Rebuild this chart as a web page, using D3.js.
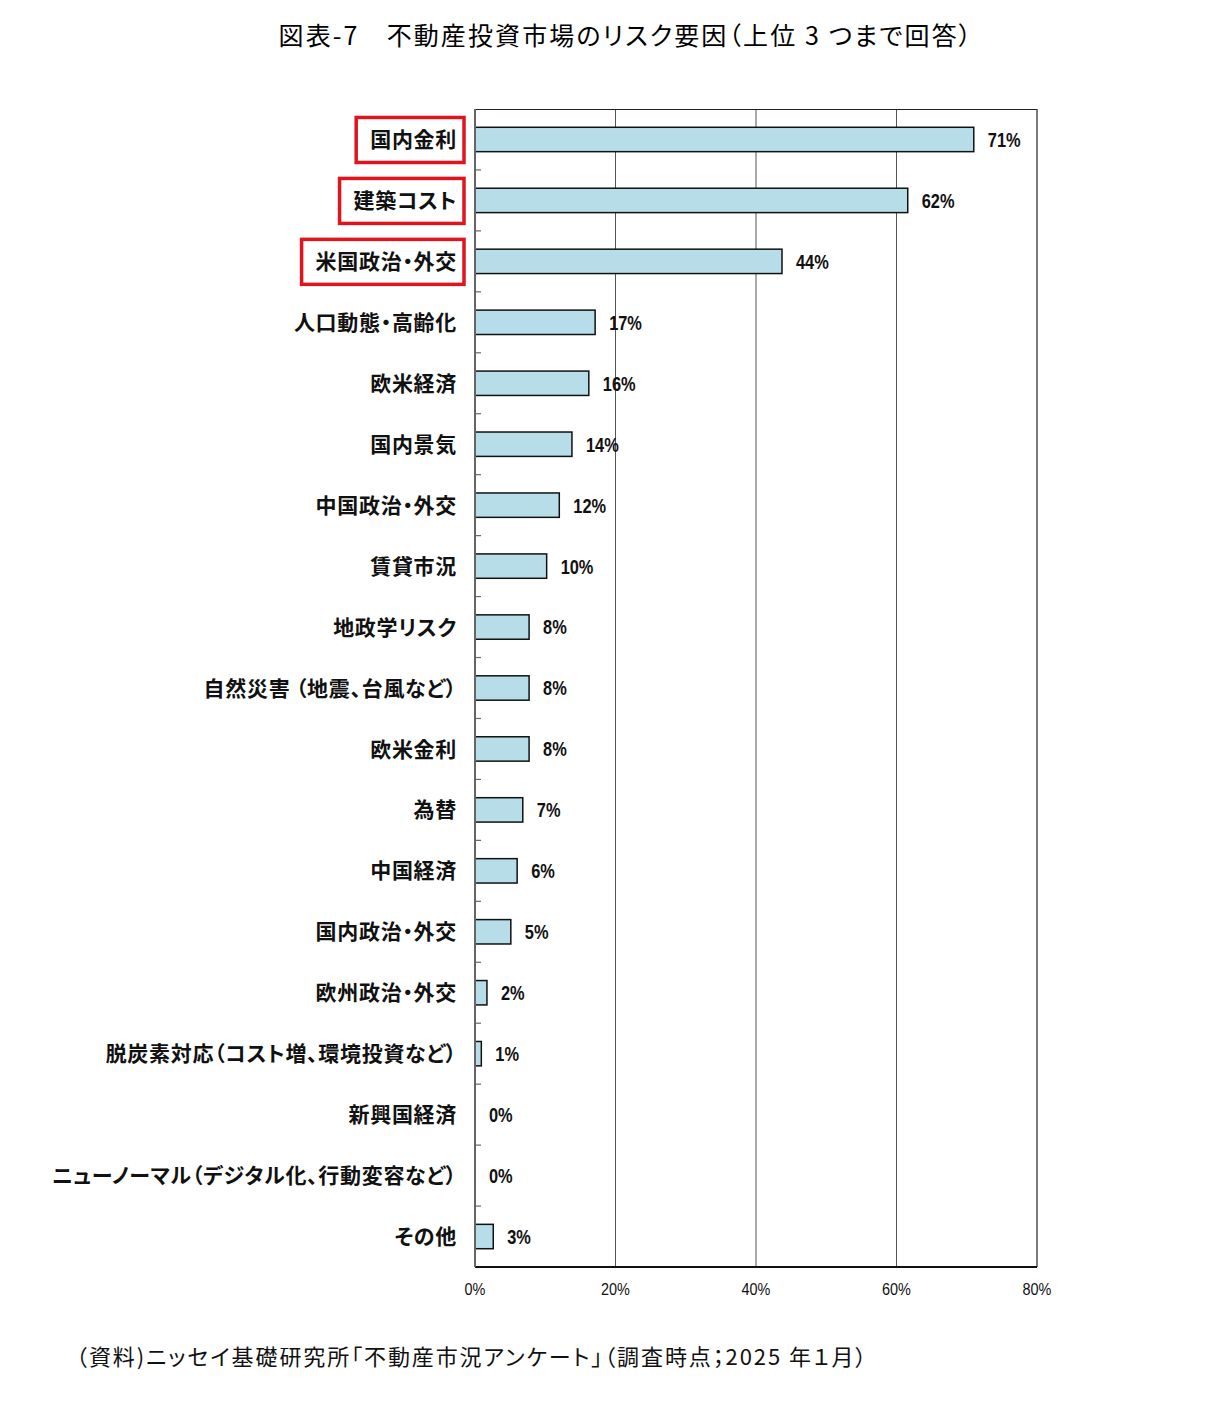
<!DOCTYPE html>
<html><head><meta charset="utf-8">
<script src="https://cdn.jsdelivr.net/npm/d3@7"></script>
<style>
body{margin:0;background:#fff;}
svg{display:block;}
.palt{font-feature-settings:"palt" 1;}
</style></head>
<body>
<svg id="c" width="1230" height="1406"></svg>
<script>
const categories = ["国内金利","建築コスト","米国政治・外交","人口動態・高齢化","欧米経済","国内景気","中国政治・外交","賃貸市況","地政学リスク","自然災害 （地震、台風など）","欧米金利","為替","中国経済","国内政治・外交","欧州政治・外交","脱炭素対応（コスト増、環境投資など）","新興国経済","ニューノーマル（デジタル化、行動変容など）","その他"];
const values = [71.0,61.6,43.7,17.1,16.2,13.8,12.0,10.2,7.7,7.7,7.7,6.8,6.0,5.1,1.7,0.9,0,0,2.6];
const highlighted = ["国内金利","建築コスト","米国政治・外交"];
const xTicks = [0,20,40,60,80];
const title = "図表-7　不動産投資市場のリスク要因（上位 3 つまで回答）";
const source = "（資料)ニッセイ基礎研究所「不動産市況アンケート」（調査時点；2025 年１月）";

const svg = d3.select("#c");
const L = 475, R = 1037, T = 109, B = 1267;
const jp = "'Noto Sans CJK JP','Noto Sans',sans-serif";
const narrow = "'Liberation Sans Narrow','Arial Narrow','Liberation Sans',sans-serif";

const x = d3.scaleLinear().domain([0,80]).range([L,R]);
const y = d3.scaleBand().domain(categories).range([T,B]).paddingInner(0.6).paddingOuter(0.3);
const step = y.step();

// title
svg.append("text").attr("class","palt").attr("x",626).attr("y",45).attr("text-anchor","middle")
  .attr("font-family",jp).attr("font-size",25).attr("letter-spacing",2.1).attr("fill","#000").text(title);

// gridlines
svg.append("g").selectAll("line").data(xTicks.filter(d=>d>0 && d<80)).join("line")
  .attr("x1",d=>x(d)).attr("x2",d=>x(d)).attr("y1",T).attr("y2",B)
  .attr("stroke","#555").attr("stroke-width",1);

// plot frame
svg.append("line").attr("x1",L).attr("x2",R).attr("y1",T+0.5).attr("y2",T+0.5).attr("stroke","#222").attr("stroke-width",1.2);
svg.append("line").attr("x1",R).attr("x2",R).attr("y1",T).attr("y2",B).attr("stroke","#222").attr("stroke-width",1.2);
svg.append("line").attr("x1",L).attr("x2",R).attr("y1",B).attr("y2",B).attr("stroke","#111").attr("stroke-width",2);

// bars
svg.append("g").selectAll("rect").data(categories).join("rect")
  .attr("x",x(0)).attr("y",d=>y(d))
  .attr("width",(d,i)=>Math.max(0,x(values[i])-x(0))).attr("height",y.bandwidth())
  .attr("fill",(d,i)=>values[i]>0?"#b7dde8":"none")
  .attr("stroke",(d,i)=>values[i]>0?"#111":"none").attr("stroke-width",1.5);

// left axis
svg.append("line").attr("x1",L).attr("x2",L).attr("y1",T).attr("y2",B).attr("stroke","#666").attr("stroke-width",2);
svg.append("g").selectAll("line").data(d3.range(1,categories.length)).join("line")
  .attr("x1",L).attr("x2",L+6).attr("y1",k=>T+k*step).attr("y2",k=>T+k*step)
  .attr("stroke","#666").attr("stroke-width",1.2);

// category labels
const lab = svg.append("g").selectAll("text").data(categories).join("text")
  .attr("class","palt")
  .attr("x",457).attr("y",d=>y(d)+y.bandwidth()/2).attr("dy","0.36em")
  .attr("text-anchor","end").attr("font-family",jp).attr("font-weight","bold")
  .attr("font-size",21).attr("letter-spacing",0.7).attr("fill","#111").text(d=>d);

// red boxes
lab.each(function(d){
  if(!highlighted.includes(d)) return;
  const bb = this.getBBox();
  const cy = y(d)+y.bandwidth()/2;
  svg.append("rect").attr("x",bb.x-14).attr("y",cy-22).attr("width",bb.width+21).attr("height",45)
    .attr("fill","none").attr("stroke","#e0141e").attr("stroke-width",3.5);
});

// value labels (condensed)
svg.append("g").selectAll("text").data(categories).join("text")
  .attr("transform",(d,i)=>`translate(${x(values[i])+14},${y(d)+y.bandwidth()/2}) scale(0.82,1)`)
  .attr("dy","0.37em")
  .attr("font-family",narrow).attr("font-weight","bold").attr("font-size",20).attr("fill","#111")
  .text((d,i)=>Math.round(values[i])+"%");

// x tick labels
svg.append("g").selectAll("text").data(xTicks).join("text")
  .attr("transform",d=>`translate(${x(d)},1295) scale(0.85,1)`).attr("text-anchor","middle")
  .attr("font-family",narrow).attr("font-size",17).attr("fill","#111").text(d=>d+"%");

// source
svg.append("text").attr("class","palt").attr("x",76).attr("y",1365).attr("font-family",jp).attr("font-size",22).attr("letter-spacing",1.9).attr("fill","#111").text(source);
</script>
</body></html>
